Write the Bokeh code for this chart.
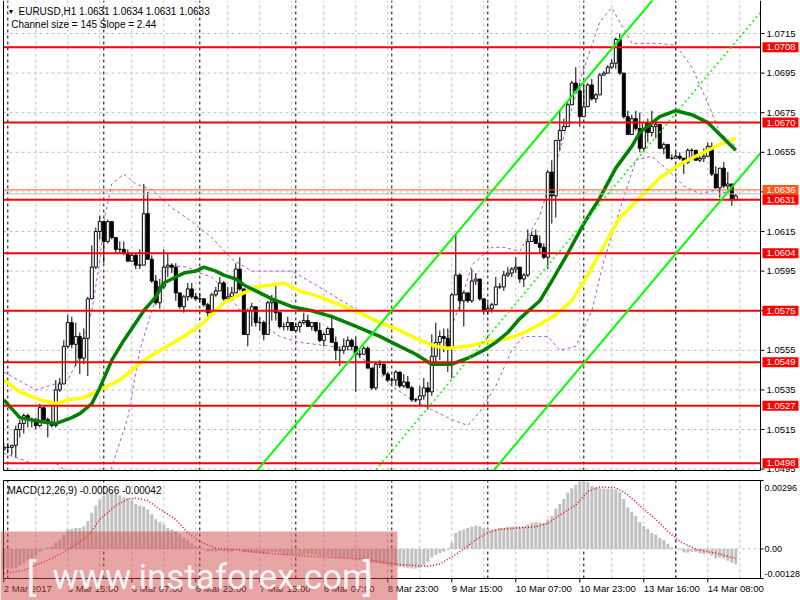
import numpy as np
from bokeh.plotting import figure
from bokeh.layouts import column
from bokeh.models import Range1d
from bokeh.core.properties import value
from bokeh.embed import file_html
from bokeh.resources import INLINE

FONT = "Liberation Sans"

# ---------------- texts ----------------
symbol_text = "EURUSD,H1  1.0631 1.0634 1.0631 1.0633"
channel_text = "Channel size = 145 Slope = 2.44"
macd_text = "MACD(12,26,9) -0.00066 -0.00042"
watermark_text = "www.instaforex.com"

# ---------------- time axis ----------------
time_tick_bars = [0, 16, 32, 48, 64, 80, 96, 112, 128, 144, 160, 176]
time_tick_labels = ["2 Mar 2017", "3 Mar 15:00", "6 Mar 07:00", "6 Mar 23:00", "7 Mar 15:00",
                    "8 Mar 07:00", "8 Mar 23:00", "9 Mar 15:00", "10 Mar 07:00", "10 Mar 23:00",
                    "13 Mar 16:00", "14 Mar 08:00"]
day_start_bars = [1, 25, 49, 73, 97, 121, 145, 168]
grid_bars = [8, 16, 24, 32, 40, 48, 56, 64, 72, 80, 88, 96, 104, 112, 120, 128, 136, 144,
             152, 160, 168, 176, 184]

# ---------------- price axis ----------------
price_ticks = [1.0495, 1.0515, 1.0535, 1.0555, 1.0575, 1.0595, 1.0615, 1.0635, 1.0655,
               1.0675, 1.0695, 1.0715]
level_prices = [1.0708, 1.0670, 1.0631, 1.0604, 1.0575, 1.0549, 1.0527, 1.0498]
orange_level = 1.0636
gray_level = 1.0634

# ---------------- candles (H1) ----------------
open_first = 1.0505
close = [
    1.0506, 1.0506, 1.0507, 1.0515, 1.0518, 1.0522, 1.0520, 1.0520, 1.0517, 1.0526,
    1.0520, 1.0518, 1.0517, 1.0535, 1.0538, 1.0557, 1.0569, 1.0558, 1.0562, 1.0551,
    1.0561, 1.0581, 1.0597, 1.0615, 1.0620, 1.0610, 1.0620, 1.0612, 1.0606, 1.0606,
    1.0604, 1.0600, 1.0603, 1.0598, 1.0598, 1.0624, 1.0601, 1.0590, 1.0579, 1.0587,
    1.0597, 1.0598, 1.0597, 1.0584, 1.0577, 1.0582, 1.0586, 1.0582, 1.0581, 1.0581,
    1.0578, 1.0574, 1.0583, 1.0585, 1.0589, 1.0581, 1.0582, 1.0584, 1.0596, 1.0586,
    1.0563, 1.0575, 1.0577, 1.0569, 1.0569, 1.0563, 1.0579, 1.0580, 1.0574, 1.0567,
    1.0567, 1.0569, 1.0565, 1.0567, 1.0569, 1.0570, 1.0567, 1.0569, 1.0565, 1.0560,
    1.0563, 1.0566, 1.0559, 1.0555, 1.0555, 1.0557, 1.0560, 1.0557, 1.0553, 1.0553,
    1.0556, 1.0546, 1.0536, 1.0548, 1.0548, 1.0543, 1.0540, 1.0540, 1.0544, 1.0537,
    1.0539, 1.0536, 1.0530, 1.0530, 1.0532, 1.0536, 1.0534, 1.0552, 1.0559, 1.0562,
    1.0561, 1.0556, 1.0583, 1.0593, 1.0580, 1.0584, 1.0580, 1.0590, 1.0591, 1.0581,
    1.0575, 1.0576, 1.0578, 1.0587, 1.0587, 1.0593, 1.0594, 1.0596, 1.0597, 1.0591,
    1.0593, 1.0610, 1.0613, 1.0609, 1.0607, 1.0602, 1.0645, 1.0633, 1.0661, 1.0666,
    1.0668, 1.0679, 1.0690, 1.0686, 1.0673, 1.0678, 1.0689, 1.0682, 1.0684, 1.0694,
    1.0695, 1.0698, 1.0700, 1.0712, 1.0695, 1.0673, 1.0664, 1.0672, 1.0667, 1.0657,
    1.0670, 1.0665, 1.0668, 1.0669, 1.0657, 1.0659, 1.0652, 1.0652, 1.0653, 1.0652,
    1.0650, 1.0656, 1.0656, 1.0651, 1.0652, 1.0653, 1.0658, 1.0644, 1.0637, 1.0647,
    1.0638, 1.0639, 1.0631, 1.0633]
high = [
    1.0508, 1.0508, 1.0507, 1.0517, 1.0520, 1.0523, 1.0523, 1.0521, 1.0521, 1.0528,
    1.0526, 1.0521, 1.0527, 1.0540, 1.0541, 1.0560, 1.0573, 1.0572, 1.0569, 1.0564,
    1.0566, 1.0582, 1.0608, 1.0617, 1.0623, 1.0619, 1.0621, 1.0619, 1.0612, 1.0610,
    1.0610, 1.0606, 1.0604, 1.0604, 1.0606, 1.0639, 1.0635, 1.0603, 1.0593, 1.0591,
    1.0606, 1.0604, 1.0599, 1.0599, 1.0584, 1.0583, 1.0589, 1.0589, 1.0584, 1.0584,
    1.0581, 1.0579, 1.0584, 1.0587, 1.0592, 1.0590, 1.0587, 1.0587, 1.0599, 1.0602,
    1.0586, 1.0576, 1.0579, 1.0577, 1.0572, 1.0570, 1.0580, 1.0583, 1.0589, 1.0574,
    1.0569, 1.0572, 1.0569, 1.0569, 1.0570, 1.0574, 1.0573, 1.0569, 1.0568, 1.0569,
    1.0564, 1.0567, 1.0573, 1.0562, 1.0557, 1.0561, 1.0562, 1.0561, 1.0562, 1.0555,
    1.0557, 1.0557, 1.0546, 1.0549, 1.0550, 1.0548, 1.0544, 1.0541, 1.0545, 1.0543,
    1.0543, 1.0542, 1.0537, 1.0531, 1.0537, 1.0541, 1.0539, 1.0563, 1.0569, 1.0565,
    1.0566, 1.0566, 1.0584, 1.0614, 1.0594, 1.0585, 1.0584, 1.0596, 1.0594, 1.0591,
    1.0581, 1.0579, 1.0579, 1.0592, 1.0589, 1.0595, 1.0597, 1.0597, 1.0602, 1.0597,
    1.0594, 1.0616, 1.0615, 1.0616, 1.0613, 1.0609, 1.0646, 1.0651, 1.0661, 1.0676,
    1.0672, 1.0680, 1.0691, 1.0698, 1.0690, 1.0689, 1.0690, 1.0692, 1.0685, 1.0695,
    1.0696, 1.0699, 1.0702, 1.0713, 1.0715, 1.0695, 1.0676, 1.0674, 1.0676, 1.0675,
    1.0670, 1.0672, 1.0676, 1.0671, 1.0665, 1.0660, 1.0659, 1.0654, 1.0655, 1.0655,
    1.0652, 1.0657, 1.0657, 1.0656, 1.0654, 1.0657, 1.0660, 1.0660, 1.0648, 1.0647,
    1.0650, 1.0645, 1.0639, 1.0634]
low = [
    1.0504, 1.0503, 1.0502, 1.0501, 1.0511, 1.0513, 1.0516, 1.0516, 1.0515, 1.0516,
    1.0519, 1.0511, 1.0516, 1.0516, 1.0534, 1.0538, 1.0556, 1.0556, 1.0547, 1.0543,
    1.0548, 1.0542, 1.0582, 1.0596, 1.0611, 1.0599, 1.0609, 1.0611, 1.0604, 1.0604,
    1.0603, 1.0600, 1.0600, 1.0596, 1.0596, 1.0599, 1.0601, 1.0589, 1.0578, 1.0576,
    1.0586, 1.0592, 1.0594, 1.0580, 1.0576, 1.0574, 1.0580, 1.0581, 1.0580, 1.0579,
    1.0577, 1.0572, 1.0572, 1.0582, 1.0585, 1.0580, 1.0579, 1.0582, 1.0584, 1.0585,
    1.0563, 1.0557, 1.0567, 1.0567, 1.0565, 1.0560, 1.0563, 1.0570, 1.0570, 1.0566,
    1.0565, 1.0565, 1.0565, 1.0564, 1.0564, 1.0568, 1.0567, 1.0565, 1.0564, 1.0559,
    1.0557, 1.0563, 1.0559, 1.0550, 1.0547, 1.0553, 1.0555, 1.0555, 1.0534, 1.0551,
    1.0553, 1.0546, 1.0535, 1.0535, 1.0546, 1.0542, 1.0539, 1.0538, 1.0537, 1.0536,
    1.0536, 1.0536, 1.0529, 1.0529, 1.0527, 1.0530, 1.0525, 1.0532, 1.0548, 1.0550,
    1.0554, 1.0544, 1.0541, 1.0584, 1.0575, 1.0567, 1.0579, 1.0579, 1.0588, 1.0580,
    1.0573, 1.0573, 1.0574, 1.0579, 1.0586, 1.0585, 1.0592, 1.0592, 1.0594, 1.0589,
    1.0587, 1.0592, 1.0610, 1.0609, 1.0604, 1.0601, 1.0596, 1.0619, 1.0622, 1.0656,
    1.0666, 1.0668, 1.0680, 1.0685, 1.0668, 1.0678, 1.0678, 1.0681, 1.0680, 1.0685,
    1.0694, 1.0695, 1.0697, 1.0697, 1.0694, 1.0672, 1.0664, 1.0665, 1.0666, 1.0655,
    1.0655, 1.0660, 1.0663, 1.0662, 1.0657, 1.0654, 1.0652, 1.0651, 1.0652, 1.0651,
    1.0644, 1.0649, 1.0651, 1.0651, 1.0650, 1.0650, 1.0653, 1.0643, 1.0637, 1.0632,
    1.0637, 1.0636, 1.0628, 1.0631]

# ---------------- moving averages (read at sample bars) ----------------
ma_green_bars = [0, 4, 9, 13, 17, 19, 22, 24, 27, 30, 35, 38, 40, 43, 45, 48, 50, 53, 55, 58,
                 60, 64, 67, 72, 77, 82, 87, 94, 98, 103, 107, 110, 112, 116, 120, 123, 126, 129,
                 134, 137, 141, 145, 149, 153, 157, 159, 164, 168, 172, 176, 179, 183]
ma_green_vals = [1.0530, 1.0521, 1.0519, 1.0518, 1.0521, 1.0523, 1.0528, 1.0536, 1.0550, 1.0560,
                 1.0575, 1.0582, 1.0589, 1.0592, 1.0594, 1.0595, 1.0597, 1.0595, 1.0593, 1.0591,
                 1.0588, 1.0584, 1.0581, 1.0577, 1.0575, 1.0572, 1.0568, 1.0562, 1.0558, 1.0553,
                 1.0548, 1.0548, 1.0548, 1.0551, 1.0555, 1.0559, 1.0564, 1.0571, 1.0580, 1.0590,
                 1.0604, 1.0619, 1.0632, 1.0647, 1.0658, 1.0665, 1.0673, 1.0676, 1.0674, 1.0670,
                 1.0664, 1.0656]
ma_yellow_bars = [0, 4, 9, 13, 16, 20, 24, 29, 32, 35, 40, 45, 50, 55, 60, 63, 67, 70, 74, 79,
                  84, 89, 94, 98, 103, 108, 111, 116, 120, 126, 129, 134, 138, 142, 146, 149, 154,
                  159, 164, 169, 174, 179, 183]
ma_yellow_vals = [1.0540, 1.0534, 1.0530, 1.0528, 1.0530, 1.0531, 1.0535, 1.0540, 1.0545, 1.0550,
                  1.0556, 1.0562, 1.0569, 1.0579, 1.0584, 1.0587, 1.0588, 1.0589, 1.0585, 1.0582,
                  1.0578, 1.0574, 1.0569, 1.0566, 1.0561, 1.0557, 1.0556, 1.0557, 1.0559, 1.0561,
                  1.0563, 1.0568, 1.0573, 1.0580, 1.0593, 1.0604, 1.0622, 1.0632, 1.0642, 1.0649,
                  1.0654, 1.0659, 1.0662]

# ---------------- Bollinger bands (read at sample bars) ----------------
bb_up_bars = [0, 8, 16, 19, 22, 24, 25, 27, 30, 33, 37, 42, 47, 52, 57, 62, 72, 78, 87, 94,
              105, 110, 114, 117, 122, 125, 129, 134, 139, 144, 149, 152, 157, 164, 168, 172,
              176, 179, 183]
bb_up_vals = [1.0544, 1.0535, 1.0540, 1.0552, 1.0575, 1.0600, 1.0620, 1.0639, 1.0644, 1.0639,
              1.0636, 1.0627, 1.0620, 1.0612, 1.0601, 1.0595, 1.0595, 1.0588, 1.0577, 1.0569,
              1.0559, 1.0556, 1.0578, 1.0598, 1.0607, 1.0607, 1.0605, 1.0623, 1.0656, 1.0691,
              1.0721, 1.0728, 1.0710, 1.0710, 1.0709, 1.0698, 1.0680, 1.0665, 1.0658]
bb_lo_bars = [0, 7, 13, 18, 22, 25, 27, 31, 34, 37, 39, 41, 46, 49, 52, 56, 59, 64, 69, 74,
              82, 87, 92, 97, 102, 107, 112, 116, 119, 123, 127, 130, 136, 139, 143, 147, 150,
              154, 158, 162, 166, 170, 174, 178, 183]
bb_lo_vals = [1.0503, 1.0498, 1.0498, 1.0490, 1.0484, 1.0485, 1.0496, 1.0521, 1.0555, 1.0575,
              1.0586, 1.0598, 1.0597, 1.0594, 1.0592, 1.0584, 1.0575, 1.0569, 1.0562, 1.0559,
              1.0557, 1.0555, 1.0547, 1.0537, 1.0530, 1.0525, 1.0520, 1.0517, 1.0524, 1.0537,
              1.0555, 1.0562, 1.0562, 1.0555, 1.0557, 1.0575, 1.0600, 1.0626, 1.0651, 1.0653,
              1.0646, 1.0638, 1.0634, 1.0636, 1.0633]

# ---------------- regression channel ----------------
channel_mid_bars = [104, 186]
channel_mid_vals = [1.0521, 1.0718]
channel_half_width = 0.0071

# ---------------- MACD ----------------
macd_hist = [
    -0.00085, -0.00085, -0.00085, -0.00080, -0.00072, -0.00062, -0.00050, -0.00040, -0.00030, -0.00012,
    -0.00002, 0.00006, 0.00012, 0.00028, 0.00040, 0.00060, 0.00084, 0.00087, 0.00091, 0.00091,
    0.00098, 0.00121, 0.00157, 0.00187, 0.00213, 0.00231, 0.00238, 0.00243, 0.00238, 0.00231,
    0.00223, 0.00219, 0.00209, 0.00194, 0.00187, 0.00184, 0.00172, 0.00150, 0.00128, 0.00116,
    0.00106, 0.00091, 0.00084, 0.00076, 0.00062, 0.00047, 0.00037, 0.00025, 0.00013, 0.00003,
    -0.00005, -0.00010, -0.00010, -0.00010, -0.00008, -0.00010, -0.00012, -0.00012, -0.00005, -0.00005,
    -0.00014, -0.00016, -0.00016, -0.00018, -0.00019, -0.00022, -0.00017, -0.00014, -0.00014, -0.00017,
    -0.00026, -0.00026, -0.00028, -0.00028, -0.00026, -0.00024, -0.00024, -0.00024, -0.00026, -0.00030,
    -0.00031, -0.00030, -0.00033, -0.00037, -0.00040, -0.00040, -0.00040, -0.00040, -0.00042, -0.00044,
    -0.00044, -0.00050, -0.00060, -0.00062, -0.00063, -0.00066, -0.00070, -0.00072, -0.00072, -0.00078,
    -0.00080, -0.00082, -0.00085, -0.00085, -0.00082, -0.00070, -0.00056, -0.00037, -0.00026, -0.00019,
    -0.00012, -0.00004, 0.00028, 0.00069, 0.00079, 0.00084, 0.00091, 0.00096, 0.00101, 0.00098,
    0.00091, 0.00087, 0.00084, 0.00087, 0.00091, 0.00091, 0.00096, 0.00096, 0.00098, 0.00096,
    0.00098, 0.00106, 0.00113, 0.00116, 0.00113, 0.00113, 0.00128, 0.00143, 0.00175, 0.00194,
    0.00216, 0.00243, 0.00263, 0.00278, 0.00290, 0.00296, 0.00290, 0.00272, 0.00268, 0.00263,
    0.00260, 0.00260, 0.00260, 0.00257, 0.00245, 0.00216, 0.00179, 0.00160, 0.00143, 0.00116,
    0.00098, 0.00087, 0.00069, 0.00062, 0.00047, 0.00037, 0.00022, 0.00007, 0.00001, -0.00004,
    -0.00015, -0.00016, -0.00012, -0.00013, -0.00019, -0.00022, -0.00019, -0.00029, -0.00041, -0.00037,
    -0.00041, -0.00051, -0.00060, -0.00066]
signal_bars = [0, 5, 12, 16, 21, 24, 28, 31, 33, 36, 39, 43, 46, 49, 53, 58, 66, 74, 83, 91,
               99, 106, 109, 112, 115, 118, 121, 124, 128, 133, 136, 139, 143, 146, 149, 153,
               156, 159, 163, 166, 169, 173, 176, 179, 183]
signal_vals = [-0.00107, -0.00093, -0.00041, -0.00004, 0.00054, 0.00128, 0.00187, 0.00216, 0.00219,
               0.00209, 0.00172, 0.00128, 0.00069, 0.00032, 0.00003, -0.00004, -0.00019, -0.00030,
               -0.00038, -0.00047, -0.00068, -0.00075, -0.00065, -0.00035, 0.00000, 0.00040,
               0.00070, 0.00085, 0.00090, 0.00096, 0.00110, 0.00146, 0.00190, 0.00248, 0.00268,
               0.00265, 0.00234, 0.00187, 0.00128, 0.00076, 0.00032, -0.00001, -0.00012, -0.00022,
               -0.00042]
macd_max, macd_min = 0.00296, -0.00128
macd_axis_texts = ["0.00296", "0.00", "-0.00128"]

# ================= layout geometry (screen px -> data) =================
BAR0_PX, BAR_PX = 3.3, 4.0                 # x of bar 0, px per bar
PRICE_PX, PRICE_REF_PX, PRICE_REF = 19800.0, 33.0, 1.0715
MACD_TOP_PX, MACD_BOT_PX = 480.0, 578.0
MACD_PX = (MACD_BOT_PX - MACD_TOP_PX) / (macd_max - macd_min)
MAIN_H, MACD_H, W = 475, 125, 800
LEFT_PX, RIGHT_PX, MAIN_BOT_PX = 3.0, 760.0, 470.0


def mx(px):
    return (px - BAR0_PX) / BAR_PX


def my(py):
    return PRICE_REF - (py - PRICE_REF_PX) / PRICE_PX


def gy(py):
    return macd_max - (py - MACD_TOP_PX) / MACD_PX


GRID = "#C0C0C0"
PURPLE = "#B24FDB"
LIME = "#00FF00"
TXT = dict(text_font=value(FONT), text_font_size=value("10px"))
AXT = dict(text_font=value(FONT), text_font_size=value("9.5px"))
AXS = dict(text_font=value(FONT), text_font_size=value("9px"))

# ---------------- derived candle arrays ----------------
n = len(close)
bars = np.arange(n)
c_arr = np.array(close)
o_arr = np.array([open_first] + close[:-1])
h_arr = np.maximum.reduce([np.array(high), o_arr, c_arr])
l_arr = np.minimum.reduce([np.array(low), o_arr, c_arr])
body_top = np.maximum(o_arr, c_arr)
body_bot = np.minimum(o_arr, c_arr)
body_fill = ["white" if c > o else "black" for o, c in zip(o_arr, c_arr)]

XL, XR = mx(LEFT_PX), mx(RIGHT_PX)

# ================= main price panel =================
p = figure(width=W, height=MAIN_H, x_range=Range1d(mx(0), mx(W)),
           y_range=Range1d(my(MAIN_H), my(0)), output_backend="svg", toolbar_location=None,
           x_axis_location=None, y_axis_location=None, min_border=0)
p.outline_line_color = None
p.grid.visible = False
p.background_fill_color = "white"
p.border_fill_color = "white"

ptop, pbot = my(0), my(MAIN_BOT_PX)
# grid
p.segment(x0=[XL] * len(price_ticks), x1=[XR] * len(price_ticks), y0=price_ticks, y1=price_ticks,
          line_color=GRID, line_dash="3 3", line_width=1)
p.segment(x0=grid_bars, x1=grid_bars, y0=[pbot] * len(grid_bars), y1=[ptop] * len(grid_bars),
          line_color=GRID, line_dash="3 3", line_width=1)
p.segment(x0=day_start_bars, x1=day_start_bars, y0=[pbot] * len(day_start_bars),
          y1=[ptop] * len(day_start_bars), line_color="black", line_dash="3 3", line_width=1)

# Bollinger bands
p.line(bb_up_bars, bb_up_vals, line_color=PURPLE, line_dash="3 3", line_width=1)
p.line(bb_lo_bars, bb_lo_vals, line_color=PURPLE, line_dash="3 3", line_width=1)

# candles
p.segment(x0=bars, y0=l_arr, x1=bars, y1=h_arr, line_color="black", line_width=1)
p.vbar(x=bars, width=0.75, top=body_top, bottom=body_bot, fill_color=body_fill,
       line_color="black", line_width=1)

# moving averages
p.line(ma_yellow_bars, ma_yellow_vals, line_color="#FFFF00", line_width=3.5)
p.line(ma_green_bars, ma_green_vals, line_color="#008000", line_width=3.5)

# price lines
p.segment(x0=[XL], x1=[XR], y0=[orange_level], y1=[orange_level], line_color="#FF5A1E", line_width=1)
p.segment(x0=[XL], x1=[XR], y0=[gray_level], y1=[gray_level], line_color="#BBBBBB", line_width=1)
p.segment(x0=[XL] * len(level_prices), x1=[XR] * len(level_prices), y0=level_prices,
          y1=level_prices, line_color="#FF0000", line_width=2)

# regression channel
slope = (channel_mid_vals[1] - channel_mid_vals[0]) / (channel_mid_bars[1] - channel_mid_bars[0])
cx = np.array([XL - 5, XR])
cmid = channel_mid_vals[0] + slope * (cx - channel_mid_bars[0])
p.line(cx, cmid + channel_half_width, line_color=LIME, line_width=2)
p.line(cx, cmid, line_color=LIME, line_width=1.5, line_dash="2 3")
p.line(cx, cmid - channel_half_width, line_color=LIME, line_width=2)

# masks outside the chart frame
p.quad(left=[mx(0)], right=[mx(W)], bottom=[my(MAIN_H)], top=[my(MAIN_BOT_PX + 0.5)],
       fill_color="white", line_color=None)
p.quad(left=[mx(RIGHT_PX + 0.5)], right=[mx(W)], bottom=[my(MAIN_H)], top=[my(0)],
       fill_color="white", line_color=None)
p.quad(left=[mx(0)], right=[mx(LEFT_PX - 0.5)], bottom=[my(MAIN_H)], top=[my(0)],
       fill_color="white", line_color=None)

# frame border
p.segment(x0=[XL, XR, XL], x1=[XL, XR, XR], y0=[pbot, pbot, pbot], y1=[ptop, ptop, pbot],
          line_color="black", line_width=1)

# header texts
p.text(x=[mx(7)], y=[my(11)], text=["\u25BC"], text_font=value(FONT), text_font_size=value("7px"),
       text_baseline="middle", text_color="black")
p.text(x=[mx(18)], y=[my(11)], text=[symbol_text], text_baseline="middle", text_color="black", **TXT)
p.text(x=[mx(10.7)], y=[my(24)], text=[channel_text], text_baseline="middle", text_color="black", **TXT)

# right price axis: ticks and labels (lowest one sits under the 1.0498 box, as in MT4)
p.segment(x0=[XR] * len(price_ticks), x1=[mx(RIGHT_PX + 4)] * len(price_ticks), y0=price_ticks,
          y1=price_ticks, line_color="black", line_width=1)
p.text(x=[mx(RIGHT_PX + 6)] * len(price_ticks), y=price_ticks, text=["%.4f" % t for t in price_ticks],
       text_baseline="middle", text_align="left", text_color="black", **AXT)

# price boxes
box_half = 5.0 / PRICE_PX
p.quad(left=[mx(762)], right=[mx(798)], bottom=[orange_level - box_half],
       top=[orange_level + box_half], fill_color="#FF5A1E", line_color=None)
p.text(x=[mx(766)], y=[orange_level], text=["%.4f" % orange_level], text_baseline="middle",
       text_color="white", **AXT)
p.quad(left=[mx(762)] * len(level_prices), right=[mx(798)] * len(level_prices),
       bottom=[v - box_half for v in level_prices], top=[v + box_half for v in level_prices],
       fill_color="#FF0000", line_color=None)
p.text(x=[mx(766)] * len(level_prices), y=level_prices, text=["%.4f" % v for v in level_prices],
       text_baseline="middle", text_color="white", **AXT)

# ================= MACD panel =================
m = figure(width=W, height=MACD_H, x_range=p.x_range, y_range=Range1d(gy(600), gy(475)),
           output_backend="svg", toolbar_location=None, x_axis_location=None,
           y_axis_location=None, min_border=0)
m.outline_line_color = None
m.grid.visible = False
m.background_fill_color = "white"
m.border_fill_color = "white"

gtop, gbot = macd_max, macd_min
m.segment(x0=[XL], x1=[XR], y0=[0.0], y1=[0.0], line_color=GRID, line_dash="3 3", line_width=1)
m.segment(x0=grid_bars, x1=grid_bars, y0=[gbot] * len(grid_bars), y1=[gtop] * len(grid_bars),
          line_color=GRID, line_dash="3 3", line_width=1)
m.segment(x0=day_start_bars, x1=day_start_bars, y0=[gbot] * len(day_start_bars),
          y1=[gtop] * len(day_start_bars), line_color="black", line_dash="3 3", line_width=1)

m.vbar(x=bars, width=0.75, top=macd_hist, bottom=0, fill_color="#C0C0C0", line_color=None)
m.line(signal_bars, signal_vals, line_color="#FF0000", line_dash="1 2", line_width=1.5)

m.segment(x0=[XL, XR, XL, XL], x1=[XL, XR, XR, XR], y0=[gbot, gbot, gbot, gtop],
          y1=[gtop, gtop, gbot, gtop], line_color="black", line_width=1)

m.text(x=[mx(7)], y=[gy(490)], text=[macd_text], text_baseline="middle", text_color="black", **TXT)

# right MACD axis labels (max / zero / min)
macd_label_y = [gy(487), 0.0, gy(573)]
m.segment(x0=[XR] * 3, x1=[mx(RIGHT_PX + 3)] * 3, y0=[macd_max, 0.0, macd_min],
          y1=[macd_max, 0.0, macd_min], line_color="black", line_width=1)
m.text(x=[mx(RIGHT_PX + 4)] * 3, y=macd_label_y, text=macd_axis_texts, text_baseline="middle",
       text_color="black", **AXS)

# time axis
m.segment(x0=time_tick_bars, x1=time_tick_bars, y0=[gbot] * len(time_tick_bars),
          y1=[gy(MACD_BOT_PX + 4)] * len(time_tick_bars), line_color="black", line_width=1)
m.text(x=time_tick_bars, y=[gy(588)] * len(time_tick_bars), text=time_tick_labels,
       text_baseline="middle", text_align="left", text_color="black", **AXT)

# watermark
m.quad(left=[mx(0)], right=[mx(397)], bottom=[gy(600)], top=[gy(531)], fill_color="#D24B4B",
       fill_alpha=0.5, line_color=None)
m.text(x=[mx(26)], y=[gy(577)], text=["["], text_font=value("Roboto"),
       text_font_size=value("38px"), text_color="white", text_alpha=0.9, text_baseline="alphabetic")
m.text(x=[mx(52)], y=[gy(577)], text=[watermark_text], text_font=value("Roboto"),
       text_font_size=value("35px"), text_color="white", text_alpha=0.9, text_baseline="alphabetic")
m.text(x=[mx(362)], y=[gy(577)], text=["]"], text_font=value("Roboto"),
       text_font_size=value("38px"), text_color="white", text_alpha=0.9, text_baseline="alphabetic")

layout = column(p, m, spacing=0)
open("out.html", "w").write(file_html(layout, INLINE))
